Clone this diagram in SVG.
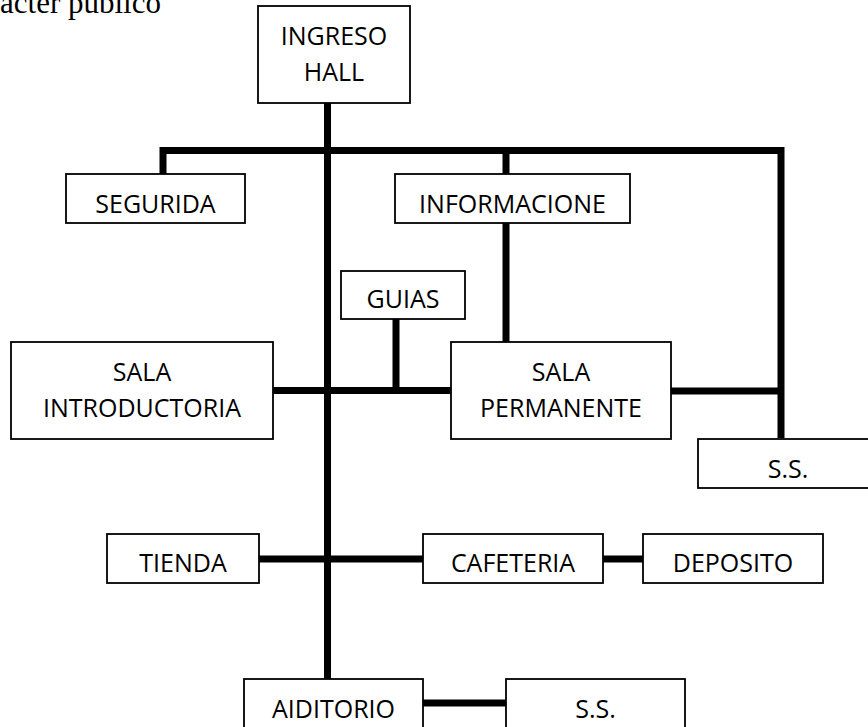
<svg xmlns="http://www.w3.org/2000/svg" width="868" height="727" viewBox="0 0 868 727">
<style>
.box{fill:#fff;stroke:#000;stroke-width:1.8}
.t{font-family:"Open Sans","Liberation Sans",sans-serif;font-size:25px;fill:#000;text-anchor:middle}
.c{fill:none;stroke:#000;stroke-width:7;stroke-linejoin:miter;stroke-linecap:butt}
.cap{font-family:"Liberation Serif","Times New Roman",serif;font-size:31px;fill:#000}
</style>
<rect width="868" height="727" fill="#fff"/>
<text class="cap" x="0" y="13">acter público</text>
<g id="connectors">
<line class="c" x1="327.5" y1="103" x2="327.5" y2="679"/>
<polyline class="c" points="163,174 163,150.5 781,150.5 781,438"/>
<line class="c" x1="506" y1="150.5" x2="506" y2="174"/>
<line class="c" x1="506" y1="223" x2="506" y2="342"/>
<line class="c" x1="273" y1="390.5" x2="451" y2="390.5"/>
<line class="c" x1="396" y1="319" x2="396" y2="390.5"/>
<line class="c" x1="671" y1="391" x2="781" y2="391"/>
<line class="c" x1="259" y1="559" x2="423" y2="559"/>
<line class="c" x1="603" y1="559" x2="643" y2="559"/>
<line class="c" x1="423" y1="703" x2="506" y2="703"/>
</g>
<g id="ingreso"><rect class="box" x="258" y="6" width="152" height="97"/><text class="t" x="334" y="45">INGRESO</text><text class="t" x="334" y="81">HALL</text></g>
<g id="seguridad"><rect class="box" x="66" y="174" width="179" height="49"/><text class="t" x="155.5" y="213">SEGURIDA</text></g>
<g id="informacion"><rect class="box" x="395" y="174" width="235" height="49"/><text class="t" x="512.5" y="213">INFORMACIONE</text></g>
<g id="guias"><rect class="box" x="341" y="271" width="124" height="48"/><text class="t" x="403" y="308">GUIAS</text></g>
<g id="sala-intro"><rect class="box" x="11" y="342" width="262" height="97"/><text class="t" x="142" y="381">SALA</text><text class="t" x="142" y="417">INTRODUCTORIA</text></g>
<g id="sala-perm"><rect class="box" x="451" y="342" width="220" height="97"/><text class="t" x="561" y="381">SALA</text><text class="t" x="561" y="417">PERMANENTE</text></g>
<g id="ss-right"><rect class="box" x="698" y="439" width="180" height="49"/><text class="t" x="788" y="478">S.S.</text></g>
<g id="tienda"><rect class="box" x="107" y="534" width="152" height="49"/><text class="t" x="183" y="572">TIENDA</text></g>
<g id="cafeteria"><rect class="box" x="423" y="534" width="180" height="49"/><text class="t" x="513" y="572">CAFETERIA</text></g>
<g id="deposito"><rect class="box" x="643" y="534" width="180" height="49"/><text class="t" x="733" y="572">DEPOSITO</text></g>
<g id="auditorio"><rect class="box" x="244" y="679" width="179" height="60"/><text class="t" x="333.5" y="718">AIDITORIO</text></g>
<g id="ss-bottom"><rect class="box" x="506" y="679" width="179" height="60"/><text class="t" x="595.5" y="718">S.S.</text></g>
</svg>
